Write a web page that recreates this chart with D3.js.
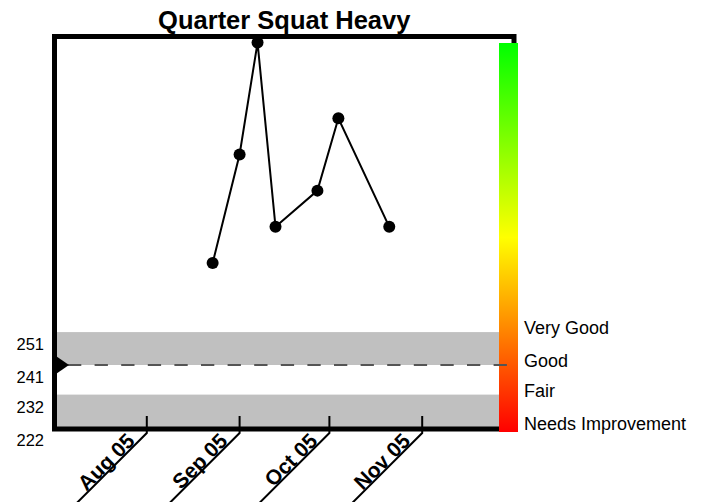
<!DOCTYPE html>
<html>
<head>
<meta charset="utf-8">
<script src="https://cdn.jsdelivr.net/npm/d3@7"></script>
<style>
  body { margin: 0; background: #fff; }
  svg { display: block; font-family: Arial, "Liberation Sans", sans-serif; }
</style>
</head>
<body>
<div id="chart"></div>
<script>
// data
var title = "Quarter Squat Heavy";
var sessionDates = ["2005-08-23", "2005-09-01", "2005-09-07", "2005-09-13", "2005-09-27", "2005-10-04", "2005-10-21"];
var weights = [272, 305, 339, 283, 294, 316, 283];
var thresholds = [222, 232, 241, 251];
var ratingLabels = ["Needs Improvement", "Fair", "Good", "Very Good"];
var goal = 241;
var xDomain = ["2005-07-01", "2005-12-01"];
var tickDates = ["2005-08-01", "2005-09-01", "2005-10-01", "2005-11-01"];
var yDomain = [222, 341];

var W = 704, H = 502;
var frame = { left: 54.5, right: 514, top: 36.5, bottom: 429 };
var parse = d3.timeParse("%Y-%m-%d");

var svg = d3.select('#chart')
  .append('svg')
    .attr('width', W)
    .attr('height', H);

var x = d3.scaleTime()
  .domain(xDomain.map(parse))
  .range([54, 512]);

var y = d3.scaleLinear()
  .domain(yDomain)
  .range([427.5, 36]);

// gradient for the rating bar
var grad = svg.append('defs')
  .append('linearGradient')
    .attr('id', 'ratingGrad')
    .attr('x1', 0).attr('y1', 0)
    .attr('x2', 0).attr('y2', 1);
grad.append('stop').attr('offset', '0%').attr('stop-color', '#00ff00');
grad.append('stop').attr('offset', '50%').attr('stop-color', '#ffff00');
grad.append('stop').attr('offset', '100%').attr('stop-color', '#ff0000');

// title
svg.append('text')
  .attr('x', (frame.left + frame.right) / 2)
  .attr('y', 29)
  .attr('text-anchor', 'middle')
  .style('font-size', '25.5px')
  .style('font-weight', 'bold')
  .text(title);

// alternating rating bands
var bands = d3.pairs(thresholds);
svg.selectAll('.band')
  .data(bands.filter(function (d, i) { return i % 2 == 0; }))
  .enter().append('rect')
    .attr('class', 'band')
    .attr('x', frame.left)
    .attr('width', 499 - frame.left)
    .attr('y', function (d) { return y(d[1]); })
    .attr('height', function (d) { return y(d[0]) - y(d[1]); })
    .attr('fill', '#c0c0c0');

// frame
svg.append('rect')
  .attr('x', frame.left)
  .attr('y', frame.top)
  .attr('width', frame.right - frame.left)
  .attr('height', frame.bottom - frame.top)
  .attr('fill', 'none')
  .attr('stroke', '#000')
  .attr('stroke-width', 5);

// rating bar
svg.append('rect')
  .attr('x', 499)
  .attr('y', 43)
  .attr('width', 19)
  .attr('height', 389)
  .attr('fill', 'url(#ratingGrad)');

// goal line + marker
svg.append('line')
  .attr('x1', 68).attr('x2', 508)
  .attr('y1', y(goal)).attr('y2', y(goal))
  .attr('stroke', '#555')
  .attr('stroke-width', 2)
  .attr('stroke-dasharray', '13.3 13.3');

svg.append('path')
  .attr('d', 'M53,' + (y(goal) - 11) + 'L69,' + y(goal) + 'L53,' + (y(goal) + 11) + 'Z')
  .attr('fill', '#000');

// left threshold labels
svg.selectAll('.ylabel')
  .data(thresholds)
  .enter().append('text')
    .attr('class', 'ylabel')
    .attr('x', 44)
    .attr('y', function (d) { return y(d) + 18; })
    .attr('text-anchor', 'end')
    .style('font-size', '16.5px')
    .text(function (d) { return d; });

// right rating labels
svg.selectAll('.rlabel')
  .data(thresholds)
  .enter().append('text')
    .attr('class', 'rlabel')
    .attr('x', 524)
    .attr('y', function (d) { return y(d) + 2; })
    .style('font-size', '18px')
    .text(function (d, i) { return ratingLabels[i]; });

// month ticks with diagonal leaders
var fmt = d3.timeFormat("%b %y");
var tick = svg.selectAll('.tick')
  .data(tickDates.map(parse))
  .enter().append('g')
    .attr('class', 'tick')
    .attr('transform', function (d) { return 'translate(' + x(d) + ',433)'; });

tick.append('path')
  .attr('d', 'M0,-17V0L-100,100')
  .attr('fill', 'none')
  .attr('stroke', '#000')
  .attr('stroke-width', 2);

tick.append('text')
  .attr('transform', 'translate(-10,10) rotate(-45)')
  .attr('dy', -1)
  .attr('text-anchor', 'end')
  .style('font-size', '21px')
  .style('font-weight', 'bold')
  .text(fmt);

// series
var pts = sessionDates.map(function (d, i) { return [x(parse(d)), y(weights[i])]; });

svg.append('path')
  .attr('d', d3.line()(pts))
  .attr('fill', 'none')
  .attr('stroke', '#000')
  .attr('stroke-width', 2);

svg.selectAll('.dot')
  .data(pts)
  .enter().append('circle')
    .attr('class', 'dot')
    .attr('cx', function (d) { return d[0]; })
    .attr('cy', function (d) { return d[1]; })
    .attr('r', 6)
    .attr('fill', '#000');
</script>
</body>
</html>
